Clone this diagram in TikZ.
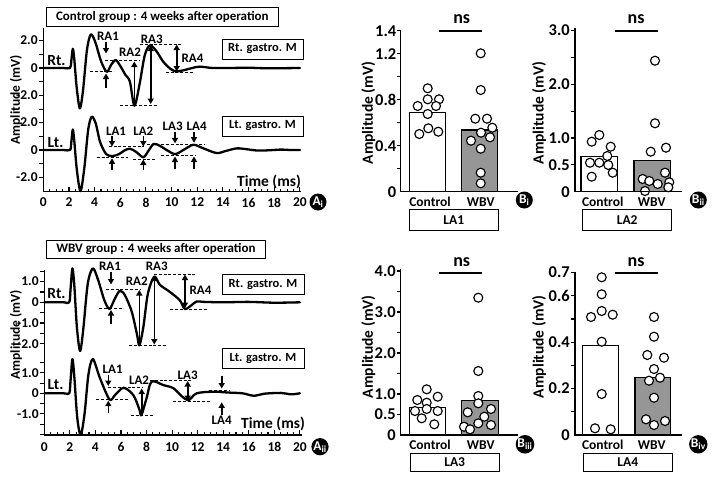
\documentclass[tikz,border=0pt]{standalone}
\usepackage{fontspec}
\setmainfont{Carlito}
\usetikzlibrary{arrows.meta}
\definecolor{barg}{RGB}{150,150,150}
\begin{document}
\begin{tikzpicture}[x=1pt,y=-1pt,
  every node/.style={inner sep=0pt},
  fs/.style={font=\fontsize{#1}{#1}\selectfont\bfseries},
  trace/.style={line width=2.3pt, line join=round, line cap=round},
  axisln/.style={line width=1.4pt},
  tickln/.style={line width=1.1pt},
  dashln/.style={dash pattern=on 3pt off 1.8pt, line width=0.75pt},
  arr/.style={line width=1.6pt, -{Triangle[length=5.5pt,width=6pt]}},
  darr/.style={line width=1.6pt, {Triangle[length=5.5pt,width=6pt]}-{Triangle[length=5.5pt,width=6pt]}},
  lbox/.style={draw, line width=0.8pt, minimum width=#1, minimum height=20pt},
  badge/.style={circle, fill=black, minimum size=17pt, text=white, font=\fontsize{13.5}{13.5}\selectfont\bfseries},
  dot/.style={draw, fill=white, line width=1.15pt},
  bar/.style={draw, line width=1.2pt},
]
\useasboundingbox (0,0) rectangle (715,480);

% ================= Panel Ai =================
\node[lbox=231.3pt, minimum height=18.7pt, fs=13] (tAi) at (162.3,16.7) {Control group : 4 weeks after operation};
\node[lbox=81pt, fs=12.5] (rAi) at (262.5,49) {Rt. gastro. M};
\node[lbox=81pt, fs=12.5] (lAi) at (262.5,126) {Lt. gastro. M};
\node[fs=15.5] (rtAi) at (56.5,61) {Rt.};
\node[fs=15.5] (ltAi) at (55.5,143) {Lt.};
\node[fs=13.5, rotate=90] (yAi) at (16,100) {Amplitude (mV)};
\node[fs=15.5] (timeAi) at (269,181.7) {Time (ms)};
\node[badge] (bAi) at (318,202) {A\textsubscript{i}};

\begin{scope}[shift={(43.3,68)}, xscale=12.83, yscale=-13.7]
\draw[trace] plot[smooth, tension=0.5] coordinates {(0,0) (1.5,0) (2.08,0) (2.18,0.5) (2.3,1.4) (2.42,0.6) (2.6,-1.4) (2.85,-2.95) (3.1,-1.6) (3.4,1.3) (3.7,2.45) (4.05,1.9) (4.5,0.5) (4.95,-0.28) (5.3,0.25) (5.65,0.58) (6.0,0.15) (6.4,-0.5) (6.75,-1.0) (7.1,-2.75) (7.5,-1.2) (7.9,0.9) (8.3,1.65) (8.8,1.25) (9.35,0.46) (9.9,-0.05) (10.35,-0.25) (11.0,-0.15) (11.6,0.0) (12.2,0.1) (13.2,0.0) (14.5,0) (16,0.02) (17.5,-0.02) (20,0)};
\end{scope}
\begin{scope}[shift={(43.3,150)}, xscale=12.83, yscale=-13.7]
\draw[trace] plot[smooth, tension=0.5] coordinates {(0,0) (1.5,0) (2.08,0) (2.18,0.55) (2.3,1.5) (2.42,0.6) (2.62,-1.5) (2.9,-3.0) (3.2,-1.3) (3.5,1.5) (3.78,2.43) (4.1,1.9) (4.42,0.6) (4.9,-0.3) (5.4,-0.44) (5.9,-0.3) (6.3,-0.05) (6.75,0.1) (7.25,-0.15) (7.8,-0.53) (8.2,-0.05) (8.6,0.44) (9.1,0.3) (9.7,-0.05) (10.3,-0.3) (11.0,0.05) (11.7,0.38) (12.4,0.15) (13.5,-0.22) (14.3,-0.05) (15.1,0.12) (15.9,0.05) (16.7,-0.04) (17.6,-0.02) (18.5,0.03) (19.3,0.0) (20,0)};
\end{scope}

\draw[axisln] (43.3,28) -- (43.3,191.7) -- (301,191.7);
\begin{scope}[shift={(43.3,191.7)}, xscale=12.83]
\foreach \t in {0,0.5,...,20} \draw[tickln] (\t,0) -- (\t,-3);
\foreach \t in {0,2,...,20} {\draw[tickln] (\t,0) -- (\t,-5); \node[fs=13.5] at (\t,10.8) {\t};}
\end{scope}
\begin{scope}[shift={(43.3,68)}, yscale=-13.7]
\foreach \v in {-3,-2,-1,0,1,2} \draw[tickln] (0,\v) -- (-4,\v);
\node[fs=13.5, anchor=east] at (-5.5,2) {2.0};
\node[fs=13.5, anchor=east] at (-5.5,0) {0};
\node[fs=13.5, anchor=east] at (-5.5,-2) {-2.0};
\end{scope}
\begin{scope}[shift={(43.3,150)}, yscale=-13.7]
\foreach \v in {-2,-1,0,1,2} \draw[tickln] (0,\v) -- (-4,\v);
\node[fs=13.5, anchor=east] at (-5.5,2) {2.0};
\node[fs=13.5, anchor=east] at (-5.5,0) {0};
\node[fs=13.5, anchor=east] at (-5.5,-2) {-2.0};
\end{scope}

% annotations Ai top
\node[fs=13] (ra1a) at (108,36.7) {RA1};
\draw[arr] (106,42) -- (106,53.5);
\draw[arr] (106,87.5) -- (106,73.5);
\draw[dashln] (105,60) -- (140,60);
\draw[dashln] (90,71.7) -- (114,71.7);
\node[fs=13] (ra2a) at (130,52.7) {RA2};
\draw[arr] (134.3,105.5) -- (134.3,61.5);
\draw[dashln] (120,105.3) -- (156.7,105.3);
\node[fs=13] (ra3a) at (151.7,39) {RA3};
\draw[dashln] (140,44) -- (182.7,44);
\draw[darr] (150.7,45.5) -- (150.7,104);
\node[fs=13] (ra4a) at (192.5,58) {RA4};
\draw[darr] (176.7,44.5) -- (176.7,71.5);
\draw[dashln] (165.7,72.3) -- (193.3,72.3);
% annotations Ai bottom
\node[fs=13] (la1a) at (116,131) {LA1};
\draw[arr] (112,136) -- (112,146.5);
\draw[dashln] (108.7,146.7) -- (144,146.7);
\draw[dashln] (96.7,157) -- (128.3,157);
\draw[arr] (112,170) -- (112,158.3);
\node[fs=13] (la2a) at (143.3,131) {LA2};
\draw[arr] (143.3,136) -- (143.3,146.5);
\draw[arr] (143.3,170) -- (143.3,159.5);
\draw[dashln] (133,159) -- (156.7,159);
\node[fs=13] (la3a) at (172.7,126) {LA3};
\draw[arr] (175,131.5) -- (175,143.3);
\draw[dashln] (146.7,144.3) -- (180,144.3);
\draw[arr] (175,169.3) -- (175,156.5);
\draw[dashln] (161.3,155.3) -- (195,155.3);
\node[fs=13] (la4a) at (196.7,126) {LA4};
\draw[arr] (194,131.5) -- (194,142.7);
\draw[dashln] (180,144) -- (204.3,144);
\draw[arr] (194,169.3) -- (194,156.5);

% ================= Panel Aii =================
\node[lbox=219.7pt, minimum height=18.3pt, fs=13] (tAii) at (155.9,249.2) {WBV group : 4 weeks after operation};
\node[lbox=82pt, fs=12.5] (rAii) at (263,284.3) {Rt. gastro. M};
\node[lbox=82pt, fs=12.5] (lAii) at (263,358.3) {Lt. gastro. M};
\node[fs=15.5] (rtAii) at (56.5,294) {Rt.};
\node[fs=15.5] (ltAii) at (55.5,385) {Lt.};
\node[fs=13.5, rotate=90] (yAii) at (16,335) {Amplitude (mV)};
\node[fs=15.5] (timeAii) at (273,424.3) {Time (ms)};
\node[badge] (bAii) at (320,446.7) {A\textsubscript{ii}};

\begin{scope}[shift={(44.3,302.3)}, xscale=12.78, yscale=-20.7]
\draw[trace] plot[smooth, tension=0.5] coordinates {(0,0) (1.5,0) (1.95,0) (2.05,0.6) (2.2,1.64) (2.35,0.8) (2.55,-1.2) (2.8,-2.35) (3.05,-1.3) (3.4,0.9) (3.8,1.64) (4.2,1.1) (4.7,0.1) (5.1,-0.32) (5.5,0.15) (5.9,0.55) (6.3,0.35) (6.84,-0.45) (7.26,-1.57) (7.44,-2.08) (7.75,-1.2) (8.1,0.4) (8.6,1.24) (9.05,0.84) (9.83,0.5) (10.6,0.1) (11.0,-0.32) (11.5,-0.15) (11.92,0.04) (12.5,0.02) (14,0) (16,0.02) (18,-0.02) (20,0)};
\end{scope}
\begin{scope}[shift={(44.3,393.3)}, xscale=12.78, yscale=-20.5]
\draw[trace] plot[smooth, tension=0.5] coordinates {(0,0) (1.5,0) (1.95,0) (2.05,0.6) (2.2,1.67) (2.35,0.8) (2.58,-1.2) (2.85,-2.03) (3.15,-1.0) (3.45,0.9) (3.8,1.67) (4.36,0.73) (5.1,-0.3) (5.53,-0.09) (6.2,0.27) (6.97,-0.09) (7.44,-0.79) (7.6,-1.06) (8.0,-0.24) (8.4,0.57) (9.32,0.4) (10.1,0.25) (10.75,-0.14) (11.3,-0.33) (11.92,0) (13.23,0.08) (14.3,0.04) (15.5,0) (16.4,-0.12) (17.2,-0.02) (18.5,0.02) (19.3,-0.05) (20,0)};
\end{scope}

\draw[axisln] (44.3,270) -- (44.3,435) -- (302,435);
\begin{scope}[shift={(44.3,435)}, xscale=12.78]
\foreach \t in {0,0.5,...,20} \draw[tickln] (\t,0) -- (\t,-3);
\foreach \t in {0,2,...,20} {\draw[tickln] (\t,0) -- (\t,-5); \node[fs=13.5] at (\t,11.7) {\t};}
\end{scope}
\begin{scope}[shift={(44.3,302.3)}, yscale=-20.7]
\foreach \v in {-2,-1.5,-1,-0.5,0,0.5,1,1.5} \draw[tickln] (0,\v) -- (-4,\v);
\node[fs=13.5, anchor=east] at (-5.5,1) {1.0};
\node[fs=13.5, anchor=east] at (-5.5,0) {0};
\node[fs=13.5, anchor=east] at (-5.5,-1) {-1.0};
\node[fs=13.5, anchor=east] at (-5.5,-2) {-2.0};
\end{scope}
\begin{scope}[shift={(44.3,393.3)}, yscale=-20.5]
\foreach \v in {-2,-1.5,-1,-0.5,0,0.5,1,1.5} \draw[tickln] (0,\v) -- (-4,\v);
\node[fs=13.5, anchor=east] at (-5.5,1) {1.0};
\node[fs=13.5, anchor=east] at (-5.5,0) {0};
\node[fs=13.5, anchor=east] at (-5.5,-1) {-1.0};
\end{scope}

% annotations Aii top
\node[fs=13] (ra1b) at (110,266.7) {RA1};
\draw[arr] (111,271.5) -- (111,284.5);
\draw[dashln] (106,289.3) -- (140,289.3);
\draw[dashln] (99.3,308.3) -- (123.3,308.3);
\draw[arr] (111,324.3) -- (111,310);
\node[fs=13] (ra2b) at (136.7,281.7) {RA2};
\draw[arr] (139.3,345) -- (139.3,290);
\draw[dashln] (129.3,345) -- (165.7,345);
\node[fs=13] (ra3b) at (156.7,266.7) {RA3};
\draw[dashln] (154,274.3) -- (196,274.3);
\draw[darr] (154.3,275.5) -- (154.3,344.5);
\node[fs=13] (ra4b) at (200.5,290) {RA4};
\draw[darr] (185,274.5) -- (185,308);
\draw[dashln] (170,309) -- (206.7,309);
% annotations Aii bottom
\node[fs=13] (la1b) at (112.7,369) {LA1};
\draw[arr] (108.3,374.5) -- (108.3,386);
\draw[dashln] (108.3,387.3) -- (143.3,387.3);
\draw[dashln] (96,399.3) -- (128.3,399.3);
\draw[arr] (108.3,413.3) -- (108.3,400.7);
\node[fs=13] (la2b) at (139,380.7) {LA2};
\draw[dashln] (150,380.7) -- (191.7,380.7);
\draw[arr] (141.7,415) -- (141.7,388.5);
\draw[dashln] (130.7,415.7) -- (153.3,415.7);
\node[fs=13] (la3b) at (187.7,375) {LA3};
\draw[darr] (187.7,381) -- (187.7,401);
\draw[dashln] (173.3,401) -- (210,401);
\draw[arr] (221.7,375.5) -- (221.7,388.5);
\draw[dashln] (209.3,390) -- (229.3,390);
\draw[arr] (221.7,415) -- (221.7,402.3);
\node[fs=13] (la4b) at (221.7,420.5) {LA4};

% ================= Panel Bi =================
\draw[bar, fill=white] (409.3,191.7) rectangle (445.7,112.3);
\draw[bar, fill=barg] (461.7,191.7) rectangle (497.7,130);
\foreach \p in {(427.7,88.3),(417.7,106),(427.7,99.3),(439,99.3),(436,106),(427.7,114),(419.3,134),(428.3,128.3),(438.3,131.7),
 (480.7,53.3),(480.7,90),(475.3,118.7),(487,118.7),(492.3,127.7),(481,132.7),(471,140.7),(490,137.3),(480.7,148.7),(480.7,172.7),(480.7,183.3)}
 \draw[dot] \p circle (4.5);
\draw[axisln] (400.7,30) -- (400.7,191.7) -- (518.3,191.7);
\foreach \v in {0.2,0.4,...,1.41} \draw[tickln] (400.7,{191.7-115*\v}) -- ++(-4,0);
\foreach \v/\t in {0/0,0.4/0.4,0.8/0.8,1.2/1.2,1.4/1.4} \node[fs=16.5, anchor=east] at (396.5,{191.7-115*\v}) {\t};
\node[fs=18] (nsBi) at (461.7,19.3) {ns};
\draw[line width=2pt] (439.3,30.7) -- (481.7,30.7);
\node[fs=15.5, rotate=90] (yBi) at (368.3,113) {Amplitude (mV)};
\node[fs=13.5] (cBi) at (430,202.3) {Control};
\node[fs=13.5] (wBi) at (480.7,202.3) {WBV};
\node[lbox=89pt, minimum height=21.4pt, fs=13.5] (xBi) at (453.8,220) {LA1};
\node[badge] (bBi) at (524.3,200) {B\textsubscript{i}};

% ================= Panel Bii =================
\draw[bar, fill=white] (581,191.7) rectangle (617.3,156.7);
\draw[bar, fill=barg] (634,191.7) rectangle (670.7,160.7);
\foreach \p in {(599.3,135),(591.7,141.7),(610.7,146.7),(607.3,156),(590,162.7),(599.3,162.7),(608.3,165),(612.7,172.7),(591.7,176.7),
 (655,60.7),(655,123.3),(666,147.7),(650.7,151.7),(665,172.7),(642.7,179),(649.3,181),(657.7,184),(669.3,182.3),(645,191),(668.3,187.3)}
 \draw[dot] \p circle (4.5);
\draw[axisln] (575,28.3) -- (575,191.7) -- (681.7,191.7);
\foreach \v in {0.5,1,...,3.01} \draw[tickln] (575,{191.7-53.7*\v}) -- ++(-4,0);
\foreach \v/\t in {0/0,0.5/0.5,1/1.0,2/2.0,3/3.0} \node[fs=16.5, anchor=east] at (570,{191.7-53.7*\v}) {\t};
\node[fs=18] (nsBii) at (636,19.3) {ns};
\draw[line width=2pt] (615,30.7) -- (657.7,30.7);
\node[fs=15.5, rotate=90] (yBii) at (539,113) {Amplitude (mV)};
\node[fs=13.5] (cBii) at (602.7,202.3) {Control};
\node[fs=13.5] (wBii) at (651.7,202.3) {WBV};
\node[lbox=89pt, minimum height=21.4pt, fs=13.5] (xBii) at (627.2,220) {LA2};
\node[badge] (bBii) at (698.3,200) {B\textsubscript{ii}};

% ================= Panel Biii =================
\draw[bar, fill=white] (409.3,435) rectangle (445.7,407.3);
\draw[bar, fill=barg] (461.7,435) rectangle (498.3,400.7);
\foreach \p in {(426.7,389.3),(417.3,400),(437.7,396.7),(426.7,402.7),(415,411),(426.7,409),(437.7,411),(421.7,418.3),(434.3,424.3),
 (478.3,297.7),(478.3,371),(478.3,396),(478.3,403.3),(467.7,412.3),(491,409),(484.3,416.7),(478.3,423.3),(464,426.7),(491,425),(470,429.3)}
 \draw[dot] \p circle (4.5);
\draw[axisln] (400.7,269.3) -- (400.7,435) -- (518.3,435);
\foreach \v in {0.5,1,...,4.01} \draw[tickln] (400.7,{435-41*\v}) -- ++(-4,0);
\foreach \v/\t in {0/0,0.5/0.5,1/1.0,2/2.0,3/3.0,4/4.0} \node[fs=16.5, anchor=east] at (396,{435-41*\v}) {\t};
\node[fs=18] (nsBiii) at (461.7,262.3) {ns};
\draw[line width=2pt] (439.3,272.7) -- (481.7,272.7);
\node[fs=15.5, rotate=90] (yBiii) at (368.3,346.7) {Amplitude (mV)};
\node[fs=13.5] (cBiii) at (430,445) {Control};
\node[fs=13.5] (wBiii) at (480.7,445) {WBV};
\node[lbox=89.3pt, minimum height=18.4pt, fs=13.5] (xBiii) at (454.7,462.5) {LA3};
\node[badge] (bBiii) at (525,444.3) {B\textsubscript{iii}};

% ================= Panel Biv =================
\draw[bar, fill=white] (582.7,435) rectangle (618.3,345.7);
\draw[bar, fill=barg] (635,435) rectangle (670.7,377.3);
\foreach \p in {(601.7,277.3),(601.7,294.3),(591,317),(601.7,311),(612.7,314.7),(601.7,341.7),(601.7,394),(595,428.3),(610.7,429.3),
 (654,317),(654,336.7),(647.3,355),(664,357.7),(654,369),(649,380.7),(660,377.7),(654,397.7),(646,419.3),(654,425),(665,421)}
 \draw[dot] \p circle (4.5);
\draw[axisln] (575,271.7) -- (575,435) -- (681.7,435);
\foreach \v in {0.1,0.2,...,0.71} \draw[tickln] (575,{435-232*\v}) -- ++(-4,0);
\foreach \v/\t in {0/0,0.2/0.2,0.4/0.4,0.6/0.6,0.7/0.7} \node[fs=16.5, anchor=east] at (570,{435-232*\v}) {\t};
\node[fs=18] (nsBiv) at (636,262.3) {ns};
\draw[line width=2pt] (615,272.7) -- (657.7,272.7);
\node[fs=15.5, rotate=90] (yBiv) at (539,346.7) {Amplitude (mV)};
\node[fs=13.5] (cBiv) at (602.7,445) {Control};
\node[fs=13.5] (wBiv) at (651.7,445) {WBV};
\node[lbox=89pt, minimum height=18.4pt, fs=13.5] (xBiv) at (627.8,462.5) {LA4};
\node[badge] (bBiv) at (698.3,444.3) {B\textsubscript{iv}};
\end{tikzpicture}
\end{document}
